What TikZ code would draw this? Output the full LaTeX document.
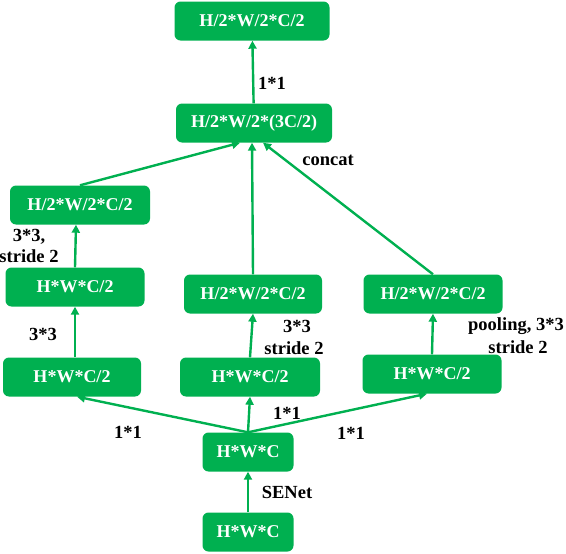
\documentclass[tikz,border=0pt]{standalone}
\usepackage{fontspec}
\setmainfont{Liberation Serif}
\usepackage{xcolor}
\definecolor{boxgreen}{HTML}{00B050}
\usetikzlibrary{arrows.meta}

\tikzset{
    box/.style={fill=boxgreen, rounded corners=6pt, text=white, font=\fontsize{18}{20}\selectfont\bfseries,
        minimum height=39pt, inner xsep=4pt},
    arr/.style={draw=boxgreen, line width=2.4pt, -{Triangle[length=8pt,width=8pt]}},
    lab/.style={font=\fontsize{18.5}{20}\selectfont\bfseries, align=center, inner sep=1pt}
}

\begin{document}
\begin{tikzpicture}[x=1pt,y=-1pt]
        \useasboundingbox (0,0) rectangle (566,554);
        \node[box, minimum width=155pt] (out) at (252,21) {H/2*W/2*C/2};
        \node[box, minimum width=156pt] (cat) at (254,123) {H/2*W/2*(3C/2)};
        \node[box, minimum width=140pt] (l1) at (80,205) {H/2*W/2*C/2};
        \node[box, minimum width=139pt] (l2) at (75,287) {H*W*C/2};
        \node[box, minimum width=138pt] (l3) at (72,377) {H*W*C/2};
        \node[box, minimum width=138pt] (m1) at (253,294) {H/2*W/2*C/2};
        \node[box, minimum width=140pt] (m2) at (250,377) {H*W*C/2};
        \node[box, minimum width=139pt] (r1) at (433,294) {H/2*W/2*C/2};
        \node[box, minimum width=139pt] (r2) at (432,374) {H*W*C/2};
        \node[box, minimum width=91pt] (se) at (248,452) {H*W*C};
        \node[box, minimum width=91pt] (inp) at (248,532) {H*W*C};

        \draw[arr] (inp) -- (se);
        \draw[arr] (se.north) -- ([xshift=5pt]l3.south);
        \draw[arr] (se.north) -- (m2.south);
        \draw[arr] (se.north) -- ([xshift=-5pt]r2.south);
        \draw[arr] ([xshift=3pt]l3.north) -- (l2.south);
        \draw[arr] (l2.north) -- ([xshift=-4pt]l1.south);
        \draw[arr] (m2.north) -- (m1.south);
        \draw[arr] (r2.north) -- (r1.south);
        \draw[arr] (l1.north) -- ([xshift=-14pt]cat.south);
        \draw[arr] (m1.north) -- ([xshift=-2pt]cat.south);
        \draw[arr] (r1.north) -- ([xshift=9pt]cat.south);
        \draw[arr] (cat) -- (out);

        \node[lab] (k1) at (272,83) {1*1};
        \node[lab] (kc) at (328,160) {concat};
        \node[lab] (k2) at (29,237) {3*3,};
        \node[lab] (k2b) at (29,256) {stride 2};
        \node[lab] (k3) at (43,334) {3*3};
        \node[lab] (k4) at (297,326) {3*3};
        \node[lab] (k5) at (294,348) {stride 2};
        \node[lab] (k6) at (516,326) {pooling, 3*3};
        \node[lab] (k7) at (518,347) {stride 2};
        \node[lab] (k8) at (287,413) {1*1};
        \node[lab] (k9) at (128,432) {1*1};
        \node[lab] (k10) at (351,433) {1*1};
        \node[lab] (k11) at (287,492) {SENet};
    \end{tikzpicture}
\end{document}
